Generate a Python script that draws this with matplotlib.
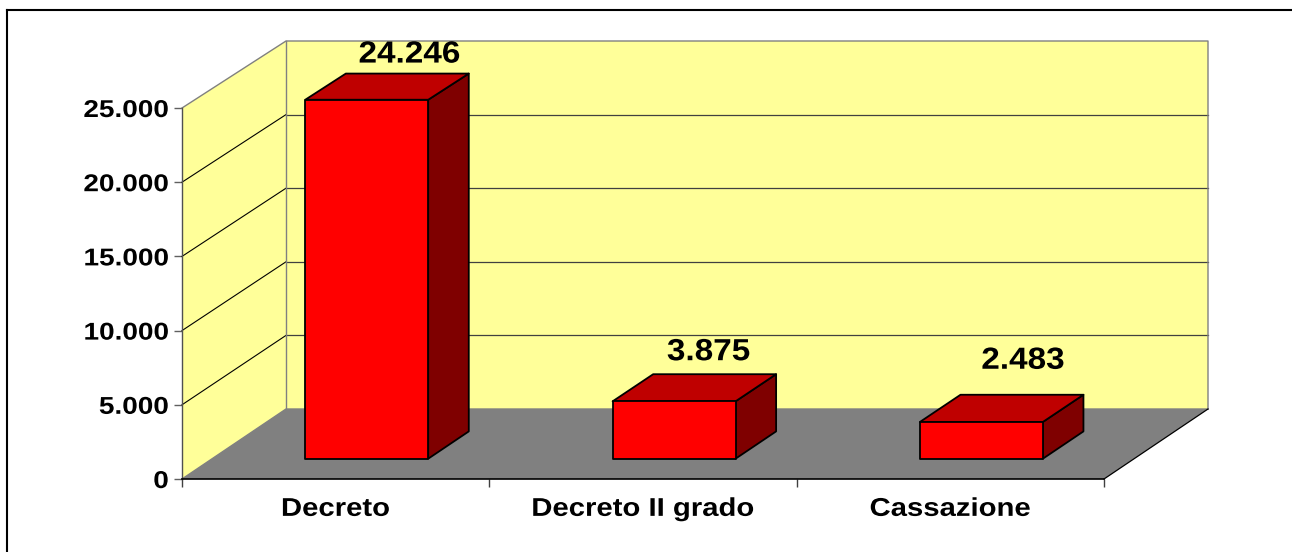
import matplotlib
matplotlib.use('Agg')
import matplotlib.pyplot as plt
from matplotlib.lines import Line2D
from matplotlib.patches import Polygon
from matplotlib.patheffects import AbstractPathEffect
from matplotlib.transforms import Affine2D

categories = ['Decreto', 'Decreto II grado', 'Cassazione']
values = [24246, 3875, 2483]
value_labels = ['24.246', '3.875', '2.483']
y_ticks = [0, 5000, 10000, 15000, 20000, 25000]
y_tick_labels = ['0', '5.000', '10.000', '15.000', '20.000', '25.000']

W, H = 1292, 552
# front plane of the plot in pixels
LEFT, RIGHT, BOTTOM, TOP = 182, 1104, 479, 108
DEPTH_X = (1208 - 1104) / ((RIGHT - LEFT) / 3)
DEPTH_Y = (479 - 409) * 25000 / (BOTTOM - TOP)
BACK_SCALE = 368 / 371


class Stretch(AbstractPathEffect):
    # the reference text is wider than the font, stretch it around one x pixel
    def __init__(self, sx, cx):
        super().__init__()
        self.sx = sx
        self.cx = cx

    def draw_path(self, renderer, gc, tpath, affine, rgbFace=None):
        stretched = affine + Affine2D().translate(-self.cx, 0).scale(self.sx, 1).translate(self.cx, 0)
        renderer.draw_path(gc, tpath, stretched, rgbFace)


def pt(x, v, d=0.0):
    # d is depth: 0 front plane, 1 back wall
    s = 1 + (BACK_SCALE - 1) * d
    return (x + DEPTH_X * d, v * s + DEPTH_Y * d)


fig = plt.figure(figsize=(W / 100, H / 100), dpi=100)
ax = fig.add_axes([LEFT / W, 1 - BOTTOM / H, (RIGHT - LEFT) / W, (BOTTOM - TOP) / H])
ax.set_xlim(0, 3)
ax.set_ylim(0, 25000)
ax.patch.set_visible(False)
for s in ax.spines.values():
    s.set_visible(False)

# only the top and left edges of the frame are inside the picture
fig.add_artist(Line2D([7 / W, 7 / W], [0, 1 - 10 / H], color='black', lw=1.5, solid_capstyle='projecting'))
fig.add_artist(Line2D([7 / W, 1], [1 - 10 / H, 1 - 10 / H], color='black', lw=1.5, solid_capstyle='projecting'))

wall = '#FFFF99'
kw = dict(clip_on=False)
ax.add_patch(Polygon([pt(0, 0), pt(0, 25000), pt(0, 25000, 1), pt(3, 25000, 1), pt(3, 0, 1), pt(0, 0, 1)],
                     fc=wall, ec='none', **kw))
ax.add_patch(Polygon([pt(0, 0), pt(3, 0), pt(3, 0, 1), pt(0, 0, 1)], fc='#808080', ec='none', **kw))

# gridlines on both walls
for v in y_ticks[1:5]:
    a, b, c = pt(0, v), pt(0, v, 1), pt(3, v, 1)
    ax.plot([a[0], b[0]], [a[1], b[1]], color='black', lw=0.8, **kw)
    ax.plot([b[0], c[0]], [b[1], c[1]], color='#404040', lw=0.9, **kw)

edge = '#808080'
xs = [pt(0, 25000)[0], pt(0, 25000, 1)[0], pt(3, 25000, 1)[0], pt(3, 0, 1)[0]]
ys = [pt(0, 25000)[1], pt(0, 25000, 1)[1], pt(3, 25000, 1)[1], pt(3, 0, 1)[1]]
ax.plot(xs, ys, color=edge, lw=1.0, **kw)
ax.plot([pt(0, 25000, 1)[0], pt(0, 0, 1)[0]], [pt(0, 25000, 1)[1], pt(0, 0, 1)[1]], color=edge, lw=1.0, **kw)
ax.plot([0, pt(0, 0, 1)[0], pt(3, 0, 1)[0]], [0, pt(0, 0, 1)[1], pt(3, 0, 1)[1]], color=edge, lw=1.0, **kw)
ax.plot([3, pt(3, 0, 1)[0]], [0, pt(3, 0, 1)[1]], color='black', lw=0.9, **kw)
ax.plot([0, 0], [0, 25000], color='#505050', lw=1.0, **kw)
ax.plot([0, 3], [0, 0], color='black', lw=1.2, **kw)

# bars
bar_w = 0.4
d1, d2 = 0.29, 0.68
label_dx = [3, -5, 2]
label_dy = [19, 22, 34]
to_px = (RIGHT - LEFT) / 3
for i, v in enumerate(values):
    x0, x1 = i + 0.503 - bar_w / 2, i + 0.503 + bar_w / 2
    lw = 1.3
    ax.add_patch(Polygon([pt(x1, 0, d1), pt(x1, v, d1), pt(x1, v, d2), pt(x1, 0, d2)],
                         fc='#7F0000', ec='black', lw=lw, joinstyle='round', zorder=3, **kw))
    ax.add_patch(Polygon([pt(x0, v, d1), pt(x1, v, d1), pt(x1, v, d2), pt(x0, v, d2)],
                         fc='#BF0000', ec='black', lw=lw, joinstyle='round', zorder=3, **kw))
    ax.add_patch(Polygon([pt(x0, 0, d1), pt(x1, 0, d1), pt(x1, v, d1), pt(x0, v, d1)],
                         fc='#FF0000', ec='black', lw=lw, joinstyle='round', zorder=4, **kw))
    # value label, hand placed above the top face in the original
    top = pt(i + 0.5, v, d2)
    cx_px = LEFT + top[0] * to_px + label_dx[i]
    ax.annotate(value_labels[i], top, xytext=(label_dx[i] * 0.72, label_dy[i] * 0.72),
                textcoords='offset points', ha='center', va='center', family='Liberation Sans',
                fontweight='bold', fontsize=22, color='black', zorder=5,
                path_effects=[Stretch(1.09, cx_px)], annotation_clip=False)

ax.set_yticks(y_ticks)
ax.set_yticklabels(y_tick_labels, family='Liberation Sans', fontweight='bold', fontsize=17.5)
ax.set_xticks([0, 1, 2, 3])
ax.set_xticklabels([])
ax.tick_params(axis='y', length=6, width=1, color='#606060', pad=3.5)
ax.tick_params(axis='x', length=6, width=1, color='#404040')
for t in ax.get_yticklabels():
    t.set_path_effects([Stretch(1.15, LEFT - 13)])

for i, c in enumerate(categories):
    cx_px = LEFT + (i + 0.5) * to_px
    ax.annotate(c, (i + 0.5, 0), xytext=(0, -21.5), textcoords='offset points',
                ha='center', va='center', family='Liberation Sans', fontweight='bold', fontsize=18.5,
                path_effects=[Stretch(1.14, cx_px)], annotation_clip=False)

fig.savefig('out.png', dpi=100)
